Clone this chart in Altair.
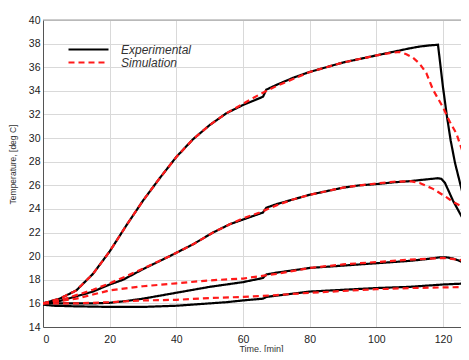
import altair as alt
import pandas as pd

# ---- data ----
expA_t = [0, 5, 10, 15, 20, 25, 30, 35, 40, 45, 50, 55, 60, 66, 67, 70, 75, 80, 85, 90, 95, 100, 105, 110, 113, 116, 118.5, 120, 121.2, 122.3, 123.6, 125.1, 126.6, 127.8]
expA_T = [16.0, 16.4, 17.1, 18.5, 20.4, 22.6, 24.7, 26.6, 28.4, 29.9, 31.1, 32.1, 32.8, 33.5, 34.1, 34.5, 35.1, 35.6, 36.0, 36.4, 36.7, 37.0, 37.3, 37.6, 37.75, 37.85, 37.9, 34.3, 31.8, 29.8, 27.9, 26.2, 24.5, 23.3]
simA_t = [0, 5, 10, 15, 20, 25, 30, 35, 40, 45, 50, 55, 60, 65, 70, 75, 80, 85, 90, 95, 100, 104, 107, 109, 111, 113, 115, 117, 120, 122, 124, 125.7, 127.5]
simA_T = [16.0, 16.4, 17.1, 18.5, 20.4, 22.6, 24.7, 26.6, 28.4, 29.9, 31.1, 32.1, 32.9, 33.7, 34.4, 35.0, 35.6, 36.0, 36.4, 36.7, 37.0, 37.2, 37.3, 37.1, 36.8, 36.3, 35.5, 34.1, 32.6, 31.4, 30.4, 29.0, 27.3]

expB_t = [0, 5, 10, 15, 20, 24, 30, 38, 45, 51, 56, 60, 66, 67, 70, 75, 80, 85, 90, 95, 100, 105, 110, 115, 118.5, 119.5, 120.6, 123, 125.7, 127.5]
expB_T = [16.0, 16.2, 16.6, 17.0, 17.6, 18.0, 18.9, 20.0, 21.0, 22.0, 22.7, 23.1, 23.7, 24.1, 24.4, 24.8, 25.2, 25.5, 25.8, 26.0, 26.1, 26.25, 26.35, 26.5, 26.6, 26.55, 26.2, 24.7, 23.3, 21.9]
simB_t = [0, 5, 10, 15, 20, 25, 30, 38, 45, 51, 56, 60, 65, 70, 75, 80, 85, 90, 95, 100, 105, 110, 113, 115, 117, 119, 121, 123, 125, 127.5]
simB_T = [16.0, 16.25, 16.7, 17.15, 17.7, 18.3, 18.95, 20.0, 21.0, 22.0, 22.7, 23.2, 23.7, 24.3, 24.8, 25.2, 25.5, 25.8, 26.0, 26.15, 26.3, 26.35, 26.2, 25.95, 25.7, 25.35, 25.0, 24.6, 24.3, 23.8]

expC_t = [0, 5, 10, 15, 20, 25, 30, 35, 40, 45, 50, 55, 60, 66, 67, 70, 75, 80, 90, 100, 110, 115, 119, 121, 123, 125, 127.8]
expC_T = [16.0, 16.0, 16.0, 16.0, 16.05, 16.2, 16.4, 16.65, 16.9, 17.15, 17.4, 17.6, 17.8, 18.15, 18.45, 18.6, 18.8, 19.0, 19.2, 19.4, 19.6, 19.75, 19.9, 19.9, 19.8, 19.6, 19.2]
simC_t = [0, 5, 10, 15, 20, 30, 40, 50, 60, 70, 80, 90, 100, 110, 120, 125, 127.8]
simC_T = [16.0, 16.2, 16.4, 16.75, 17.1, 17.45, 17.7, 17.95, 18.1, 18.5, 19.0, 19.3, 19.5, 19.7, 19.85, 19.7, 19.4]

expD_t = [0, 3, 10, 20, 30, 40, 45, 50, 55, 60, 66, 67, 70, 80, 90, 100, 110, 120, 127.8]
expD_T = [15.9, 15.8, 15.75, 15.7, 15.7, 15.8, 15.9, 16.0, 16.1, 16.25, 16.4, 16.55, 16.65, 17.0, 17.15, 17.3, 17.4, 17.6, 17.7]
simD_t = [0, 10, 20, 30, 40, 50, 60, 70, 80, 90, 100, 110, 120, 127.8]
simD_T = [16.0, 16.0, 16.1, 16.25, 16.3, 16.45, 16.55, 16.7, 16.9, 17.05, 17.2, 17.3, 17.35, 17.4]

series_names = ["Experimental", "Simulation"]
x_ticks = [0, 20, 40, 60, 80, 100, 120]
y_ticks = list(range(14, 41, 2))
x_domain = [0, 125.4]
y_domain = [14, 40]


def frame(t, T, curve, kind):
    return pd.DataFrame({"t": t, "T": T, "curve": curve, "kind": kind})


exp_df = pd.concat([
    frame(expA_t, expA_T, "A", "Experimental"),
    frame(expB_t, expB_T, "B", "Experimental"),
    frame(expC_t, expC_T, "C", "Experimental"),
    frame(expD_t, expD_T, "D", "Experimental"),
])
sim_df = pd.concat([
    frame(simA_t, simA_T, "A", "Simulation"),
    frame(simB_t, simB_T, "B", "Simulation"),
    frame(simC_t, simC_T, "C", "Simulation"),
    frame(simD_t, simD_T, "D", "Simulation"),
])

FONT = "Liberation Sans"

x_axis = alt.Axis(
    values=x_ticks, title="Time, [min]", format="d", labelOverlap=False,
    grid=True, gridColor="#d9d9d9", domainColor="#555555",
    ticks=False, tickSize=0, labelPadding=7,
    labelFont=FONT, labelFontSize=10.5, labelColor="#222222",
    titleFont=FONT, titleFontSize=9, titleFontWeight="normal", titleColor="#333333",
    titleX=218, titleY=24, titleBaseline="alphabetic",
)
y_axis = alt.Axis(
    values=y_ticks, title="Temperature, [deg C]", format="d", labelOverlap=False,
    grid=True, gridColor="#d9d9d9", domainColor="#555555",
    ticks=False, tickSize=0, labelPadding=3,
    labelFont=FONT, labelFontSize=10.5, labelColor="#222222",
    titleFont=FONT, titleFontSize=8.5, titleFontWeight="normal", titleColor="#333333",
    titleX=-31, titleY=144, titleAngle=-90, titleAlign="center", titleBaseline="middle",
)
x_enc = alt.X("t:Q", scale=alt.Scale(domain=x_domain, nice=False, zero=False), axis=x_axis)
y_enc = alt.Y("T:Q", scale=alt.Scale(domain=y_domain, nice=False, zero=False), axis=y_axis)

legend_opts = dict(
    title=None, orient="none", legendX=39, legendY=23,
    symbolType="M-4,0L4,0", symbolSize=100, symbolStrokeWidth=2.2,
    labelFont=FONT, labelFontSize=12, labelFontStyle="italic", labelColor="#333333",
    labelOffset=26, rowPadding=0, padding=0,
)
color_enc = alt.Color(
    "kind:N",
    scale=alt.Scale(domain=series_names, range=["#000000", "#ff1a1a"]),
    legend=alt.Legend(**legend_opts),
)
dash_enc = alt.StrokeDash(
    "kind:N",
    scale=alt.Scale(domain=series_names, range=[[1, 0], [6, 4]]),
    legend=alt.Legend(**legend_opts),
)

exp_layer = alt.Chart(exp_df).mark_line(strokeWidth=2.2, clip=True).encode(
    x=x_enc, y=y_enc, color=color_enc, strokeDash=dash_enc, detail="curve:N", order="t:Q"
)
sim_layer = alt.Chart(sim_df).mark_line(strokeWidth=2.2, clip=True).encode(
    x=x_enc, y=y_enc, color=color_enc, strokeDash=dash_enc, detail="curve:N", order="t:Q"
)
top_border = alt.Chart(pd.DataFrame({"T": [40]})).mark_rule(color="#9a9a9a", strokeWidth=1).encode(
    y=y_enc
)

chart = alt.layer(exp_layer, sim_layer, top_border).properties(
    width=418, height=307,
    autosize=alt.AutoSizeParams(type="none"),
    padding={"left": 35, "top": 12, "right": 0, "bottom": 25},
).configure_view(stroke=None).configure(background="white")

chart.save("out.html", embed_options={"renderer": "svg", "actions": False})
